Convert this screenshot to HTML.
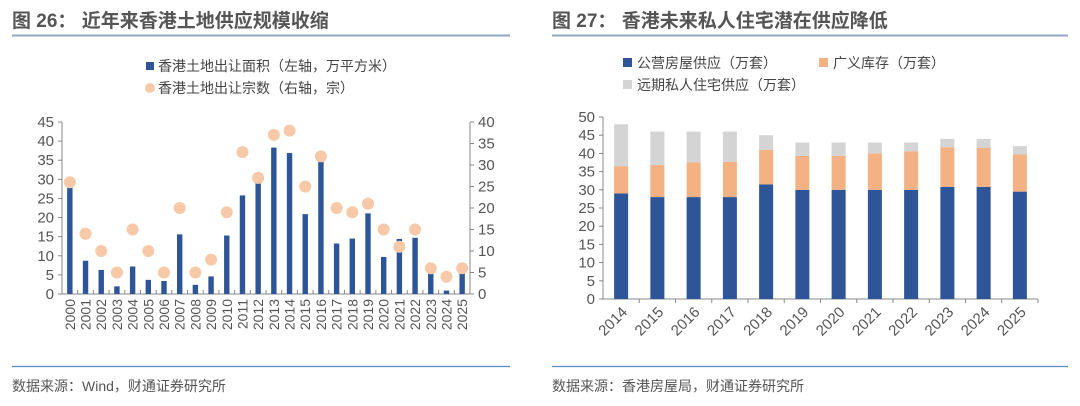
<!DOCTYPE html>
<html><head><meta charset="utf-8"><style>
body{margin:0;background:#fff;}
svg{display:block;font-family:"Liberation Sans","Noto Sans CJK SC",sans-serif;}
</style></head><body>
<svg id="s" width="1080" height="406" viewBox="0 0 1080 406" xmlns="http://www.w3.org/2000/svg">
<text x="12" y="27" font-size="19" font-weight="bold" fill="#555">图 26：  近年来香港土地供应规模收缩</text>
<line x1="12" y1="35.5" x2="510" y2="35.5" stroke="#8fa6c4" stroke-width="2"/>
<text x="552" y="27" font-size="19" font-weight="bold" fill="#555">图 27：  香港未来私人住宅潜在供应降低</text>
<line x1="552" y1="35.5" x2="1068" y2="35.5" stroke="#8fa6c4" stroke-width="2"/>
<line x1="12" y1="366.5" x2="510" y2="366.5" stroke="#5b8ac0" stroke-width="1.2"/>
<line x1="552" y1="366.5" x2="1068" y2="366.5" stroke="#5b8ac0" stroke-width="1.2"/>
<text x="12" y="391" font-size="14" fill="#555">数据来源：Wind，财通证券研究所</text>
<text x="552" y="391" font-size="14" fill="#555">数据来源：香港房屋局，财通证券研究所</text>

<rect x="146" y="62" width="8" height="8" fill="#2E5597"/>
<text x="158" y="71" font-size="14" fill="#444">香港土地出让面积（左轴，万平方米）</text>
<circle cx="150" cy="88" r="5" fill="#F7C9A8"/>
<text x="158" y="93" font-size="14" fill="#444">香港土地出让宗数（右轴，宗）</text>

<rect x="623" y="58" width="9" height="9" fill="#2E5597"/>
<text x="637" y="68" font-size="14" fill="#444">公营房屋供应（万套）</text>
<rect x="819" y="58" width="9" height="9" fill="#F4B183"/>
<text x="833" y="68" font-size="14" fill="#444">广义库存（万套）</text>
<rect x="623" y="80" width="9" height="9" fill="#D4D4D4"/>
<text x="637" y="90" font-size="14" fill="#444">远期私人住宅供应（万套）</text>
<g id="L"></g><g id="R"></g>
</svg>
<script>
const years1=["2000","2001","2002","2003","2004","2005","2006","2007","2008","2009","2010","2011","2012","2013","2014","2015","2016","2017","2018","2019","2020","2021","2022","2023","2024","2025"];
const landArea=[28,8.7,6.3,2,7.2,3.7,3.4,15.6,2.4,4.6,15.3,25.8,29,38.3,36.9,20.9,34.8,13.2,14.5,21.1,9.7,14.4,14.7,5.5,0.9,5.5];
const landCount=[26,14,10,5,15,10,5,20,5,8,19,33,27,37,38,25,32,20,19,21,15,11,15,6,4,6];
const leftTicks=[0,5,10,15,20,25,30,35,40,45];
const rightTicks=[0,5,10,15,20,25,30,35,40];
const years2=["2014","2015","2016","2017","2018","2019","2020","2021","2022","2023","2024","2025"];
const publicHousing=[29,28,28,28,31.5,30,30,30,30,30.8,30.8,29.5];
const inventory=[7.5,8.8,9.5,9.7,9.5,9.3,9.3,10,10.6,10.9,10.7,10.2];
const privateSupply=[11.5,9.2,8.5,8.3,4,3.7,3.7,3,2.4,2.3,2.5,2.3];
const ticks2=[0,5,10,15,20,25,30,35,40,45,50];
const NS="http://www.w3.org/2000/svg";
function mk(p,t,a){const e=document.createElementNS(NS,t);for(const k in a)e.setAttribute(k,a[k]);p.appendChild(e);return e;}
const L=document.getElementById('L');
const lx0=62,lx1=470,ly0=294,ly1=122;
const band1=(lx1-lx0)/years1.length;
const xL=i=>lx0+band1*(i+0.5);
const yL=v=>ly0-(v/45)*(ly0-ly1);
const yR=v=>ly0-(v/40)*(ly0-ly1);
let ax=mk(L,'line',{x1:lx0,y1:ly1,x2:lx0,y2:ly0,stroke:'#888'});

ax=mk(L,'line',{x1:lx1,y1:ly1,x2:lx1,y2:ly0,stroke:'#888'});

ax=mk(L,'line',{x1:lx0,y1:ly0,x2:lx1,y2:ly0,stroke:'#888'});

leftTicks.forEach(v=>{const y=yL(v);mk(L,'line',{x1:lx0-4,y1:y,x2:lx0,y2:y,stroke:'#888'});
const t=mk(L,'text',{x:lx0-8,y:y+5,'font-size':15,fill:'#555','text-anchor':'end'});t.textContent=v;
});
rightTicks.forEach(v=>{const y=yR(v);mk(L,'line',{x1:lx1,y1:y,x2:lx1+4,y2:y,stroke:'#888'});
const t=mk(L,'text',{x:lx1+8,y:y+5,'font-size':15,fill:'#555'});t.textContent=v;
});
years1.forEach((yr,i)=>{mk(L,'line',{x1:lx0+band1*(i+1),y1:ly0,x2:lx0+band1*(i+1),y2:ly0-4,stroke:'#888'});
const x=xL(i);
const b=mk(L,'rect',{x:x-2.7,y:yL(landArea[i]),width:5.4,height:ly0-yL(landArea[i]),fill:'#2E5597'});

const c=mk(L,'circle',{cx:x,cy:yR(landCount[i]),r:6,fill:'#F7C9A8'});

const t=mk(L,'text',{x:0,y:0,'font-size':14,fill:'#555','text-anchor':'end',transform:`translate(${x+5},${ly0+5}) rotate(-90)`});t.textContent=yr;
});
const R=document.getElementById('R');
const rx0=603,rx1=1038,ry0=299,ry1=117;
const band2=(rx1-rx0)/years2.length;
const x2=i=>rx0+band2*(i+0.5);
const y2=v=>ry0-(v/50)*(ry0-ry1);
ax=mk(R,'line',{x1:rx0,y1:ry1,x2:rx0,y2:ry0,stroke:'#888'});

ax=mk(R,'line',{x1:rx0,y1:ry0,x2:rx1,y2:ry0,stroke:'#888'});

ticks2.forEach(v=>{const y=y2(v);mk(R,'line',{x1:rx0-4,y1:y,x2:rx0,y2:y,stroke:'#888'});
const t=mk(R,'text',{x:rx0-8,y:y+5,'font-size':15,fill:'#555','text-anchor':'end'});t.textContent=v;
});
years2.forEach((yr,i)=>{mk(R,'line',{x1:rx0+band2*(i+1),y1:ry0,x2:rx0+band2*(i+1),y2:ry0+4,stroke:'#888'});
const x=x2(i),w=14;let base=0;
[[publicHousing,'#2E5597','public'],[inventory,'#F4B183','inventory'],[privateSupply,'#D4D4D4','private']].forEach(([arr,col,nm])=>{
const v=arr[i];const r=mk(R,'rect',{x:x-w/2,y:y2(base+v),width:w,height:y2(base)-y2(base+v),fill:col});
base+=v;});
const t=mk(R,'text',{x:0,y:0,'font-size':15,fill:'#555','text-anchor':'end',transform:`translate(${x+7},${ry0+14}) rotate(-45)`});t.textContent=yr;
});
</script>
</body></html>
